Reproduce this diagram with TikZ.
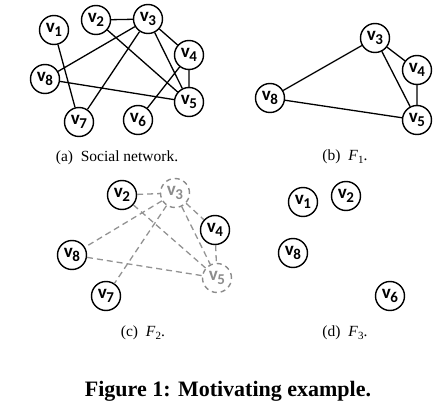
\documentclass[tikz,border=0pt]{standalone}
\usepackage{fontspec}
\setmainfont{Liberation Serif}
\newfontfamily\nodefont{Carlito}[BoldFont={* Bold}]
\newcommand\vlab[1]{{\nodefont\bfseries{\fontsize{19}{19}\selectfont v}\kern-0.5pt\raisebox{-4.5pt}{\fontsize{15}{15}\selectfont #1}}}
\newcommand\Fsub[1]{\textit{F}\kern0.3pt\raisebox{-2.5pt}{\fontsize{11}{11}\selectfont #1}}
\tikzset{
  vnode/.style={circle, draw=black, line width=1.4pt, minimum size=29pt, inner sep=0pt, text=black},
  gnode/.style={circle, draw=gray!90, dashed, dash pattern=on 5pt off 4pt, line width=1.4pt, minimum size=29pt, inner sep=0pt, text=gray!90},
  edge/.style={line width=1.3pt, draw=black},
  gedge/.style={line width=1.3pt, draw=gray!85, dash pattern=on 6pt off 4pt},
  subcap/.style={font=\fontsize{15.5}{17}\selectfont, inner sep=0pt},
}
\begin{document}
\begin{tikzpicture}[x=1pt,y=-1pt]
\useasboundingbox (0,0) rectangle (445,414);
% (a)
\node[vnode] (a1) at (54,30) {\vlab{1}};
\node[vnode] (a2) at (96,20) {\vlab{2}};
\node[vnode] (a3) at (148,19) {\vlab{3}};
\node[vnode] (a4) at (189,55) {\vlab{4}};
\node[vnode] (a8) at (45,79) {\vlab{8}};
\node[vnode] (a5) at (189,102) {\vlab{5}};
\node[vnode] (a7) at (79,122) {\vlab{7}};
\node[vnode] (a6) at (138,120) {\vlab{6}};
\draw[edge] (a2)--(a3) (a3)--(a4) (a4)--(a5) (a3)--(a8) (a3)--(a7) (a3)--(a5)
  (a2)--(a5) (a8)--(a5) (a1)--(a7) (a4)--(a6);
\node[subcap] (capa) at (117,158) {(a)\enspace Social network.};
% (b)
\node[vnode] (b3) at (375,38) {\vlab{3}};
\node[vnode] (b4) at (417,70) {\vlab{4}};
\node[vnode] (b8) at (270,98) {\vlab{8}};
\node[vnode] (b5) at (417,120) {\vlab{5}};
\draw[edge] (b3)--(b8) (b3)--(b4) (b3)--(b5) (b4)--(b5) (b8)--(b5);
\node[subcap] (capb) at (345,157) {(b)\enspace \Fsub{1}.};
% (c)
\node[vnode] (c2) at (122,195) {\vlab{2}};
\node[gnode] (c3) at (175,193) {\vlab{3}};
\node[vnode] (c4) at (215,230) {\vlab{4}};
\node[vnode] (c8) at (72,255) {\vlab{8}};
\node[gnode] (c5) at (217,278) {\vlab{5}};
\node[vnode] (c7) at (106,296) {\vlab{7}};
\draw[gedge] (c2)--(c3) (c3)--(c4) (c3)--(c8) (c3)--(c7) (c3)--(c5)
  (c2)--(c5) (c8)--(c5) (c4)--(c5);
\node[subcap] (capc) at (143,333) {(c)\enspace \Fsub{2}.};
% (d)
\node[vnode] (d1) at (303,202) {\vlab{1}};
\node[vnode] (d2) at (346,196) {\vlab{2}};
\node[vnode] (d8) at (293,253) {\vlab{8}};
\node[vnode] (d6) at (390,296) {\vlab{6}};
\node[subcap] (capd) at (345,333) {(d)\enspace \Fsub{3}.};
% figure caption
\node[inner sep=0pt, font=\bfseries\fontsize{22}{24}\selectfont] (fig) at (228,391) {Figure 1: Motivating example.};
\end{tikzpicture}
\end{document}
